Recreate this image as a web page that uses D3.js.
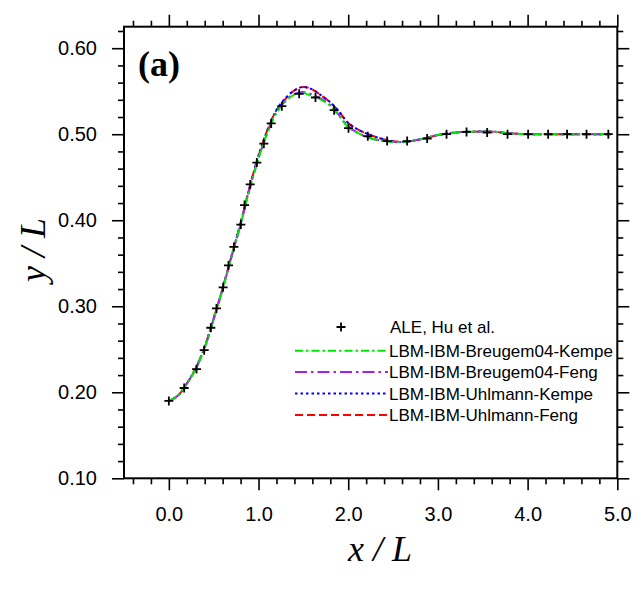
<!DOCTYPE html>
<html>
<head>
<meta charset="utf-8">
<script src="https://cdn.jsdelivr.net/npm/d3@7/dist/d3.min.js"></script>
<style>
  html, body { margin: 0; padding: 0; background: #fff; }
  svg { display: block; }
</style>
</head>
<body>
<svg id="chart" width="644" height="594"></svg>
<script>
// ---------------- data ----------------
const xMajorTicks = [0, 1, 2, 3, 4, 5];
const yMajorTicks = [0.1, 0.2, 0.3, 0.4, 0.5, 0.6];
const xTickLabels = ["0.0", "1.0", "2.0", "3.0", "4.0", "5.0"];
const yTickLabels = ["0.10", "0.20", "0.30", "0.40", "0.50", "0.60"];

// ALE, Hu et al. (markers)
const aleX = [0.0, 0.171, 0.309, 0.394, 0.468, 0.531, 0.605, 0.665, 0.725, 0.803, 0.844, 0.907, 0.981, 1.059, 1.141, 1.26, 1.453, 1.635, 1.843, 2.003, 2.218, 2.434, 2.657, 2.88, 3.096, 3.319, 3.549, 3.776, 4.006, 4.229, 4.44, 4.657, 4.9];
const aleY = [0.190, 0.205, 0.227, 0.249, 0.275, 0.2975, 0.322, 0.3475, 0.369, 0.395, 0.4176, 0.4416, 0.467, 0.489, 0.5125, 0.5326, 0.547, 0.5427, 0.528, 0.507, 0.4977, 0.492, 0.492, 0.495, 0.500, 0.5027, 0.502, 0.500, 0.500, 0.500, 0.500, 0.500, 0.500];

// LBM curves
const curveX = [0.0, 0.1, 0.2, 0.3, 0.4, 0.5, 0.6, 0.7, 0.8, 0.9, 1.0, 1.1, 1.2, 1.3, 1.4, 1.5, 1.6, 1.7, 1.8, 1.9, 2.0, 2.1, 2.2, 2.4, 2.6, 2.8, 3.0, 3.2, 3.4, 3.6, 3.8, 4.0, 4.5, 4.93];
const breugemKempeY = [0.190, 0.196, 0.210, 0.227, 0.252, 0.285, 0.320, 0.358, 0.395, 0.436, 0.472, 0.502, 0.525, 0.538, 0.546, 0.548, 0.544, 0.540, 0.533, 0.521, 0.508, 0.502, 0.497, 0.492, 0.491, 0.494, 0.499, 0.502, 0.503, 0.503, 0.501, 0.500, 0.500, 0.500];
const breugemFengY = [0.190, 0.196, 0.210, 0.227, 0.252, 0.285, 0.320, 0.358, 0.395, 0.436, 0.472, 0.502, 0.525, 0.539, 0.547, 0.549, 0.546, 0.541, 0.534, 0.522, 0.509, 0.502, 0.497, 0.492, 0.491, 0.494, 0.499, 0.502, 0.503, 0.503, 0.501, 0.500, 0.500, 0.500];
const uhlmannKempeY = [0.190, 0.196, 0.210, 0.228, 0.253, 0.286, 0.321, 0.359, 0.397, 0.438, 0.475, 0.505, 0.528, 0.542, 0.551, 0.555, 0.552, 0.545, 0.537, 0.526, 0.513, 0.506, 0.501, 0.494, 0.491, 0.494, 0.499, 0.502, 0.503, 0.503, 0.501, 0.500, 0.500, 0.500];
const uhlmannFengY = [0.190, 0.196, 0.210, 0.228, 0.253, 0.286, 0.321, 0.359, 0.397, 0.438, 0.475, 0.505, 0.528, 0.541, 0.551, 0.555, 0.552, 0.545, 0.537, 0.526, 0.513, 0.506, 0.501, 0.494, 0.491, 0.494, 0.499, 0.502, 0.503, 0.503, 0.501, 0.500, 0.500, 0.500];

const seriesNames = ["LBM-IBM-Breugem04-Kempe", "LBM-IBM-Breugem04-Feng", "LBM-IBM-Uhlmann-Kempe", "LBM-IBM-Uhlmann-Feng"];
const markerName = "ALE, Hu et al.";

// ---------------- layout ----------------
const svg = d3.select("#chart");
const pLeft = 124, pRight = 617.3, pTop = 26.7, pBottom = 478.3;

const x = d3.scaleLinear().domain([-0.5, 5.0]).range([pLeft, pRight]);
const y = d3.scaleLinear().domain([0.1, 0.625]).range([pBottom, pTop]);

const xMinor = d3.range(-0.4, 5.01, 0.2).map(v => +v.toFixed(2)).filter(v => Math.abs(v - Math.round(v)) > 1e-6);
const yMinor = d3.range(0.12, 0.625, 0.02).map(v => +v.toFixed(3)).filter(v => Math.abs(v * 10 - Math.round(v * 10)) > 1e-6);

const tickFont = "'Liberation Sans', Arial, Helvetica, sans-serif";
const serifFont = "'Liberation Serif', 'Times New Roman', Times, serif";

function styleAxis(g) {
  g.select(".domain").remove();
  g.selectAll("line").attr("stroke", "#000").attr("stroke-width", 1.6);
}

// bottom
svg.append("g").attr("transform", `translate(0,${pBottom})`)
  .call(d3.axisBottom(x).tickValues(xMinor).tickSize(6).tickFormat(""))
  .call(styleAxis);
svg.append("g").attr("transform", `translate(0,${pBottom})`)
  .call(d3.axisBottom(x).tickValues(xMajorTicks).tickSize(12).tickPadding(17)
    .tickFormat((d, i) => xTickLabels[i]))
  .call(styleAxis)
  .call(g => g.selectAll("text").attr("font-family", tickFont).attr("font-size", 20).attr("fill", "#000"));
// top
svg.append("g").attr("transform", `translate(0,${pTop})`)
  .call(d3.axisTop(x).tickValues(xMinor).tickSize(6).tickFormat(""))
  .call(styleAxis);
svg.append("g").attr("transform", `translate(0,${pTop})`)
  .call(d3.axisTop(x).tickValues(xMajorTicks).tickSize(12).tickFormat(""))
  .call(styleAxis);
// left
svg.append("g").attr("transform", `translate(${pLeft},0)`)
  .call(d3.axisLeft(y).tickValues(yMinor).tickSize(6).tickFormat(""))
  .call(styleAxis);
svg.append("g").attr("transform", `translate(${pLeft},0)`)
  .call(d3.axisLeft(y).tickValues(yMajorTicks).tickSize(12).tickPadding(15)
    .tickFormat((d, i) => yTickLabels[i]))
  .call(styleAxis)
  .call(g => g.selectAll("text").attr("font-family", tickFont).attr("font-size", 20).attr("fill", "#000"));
// right
svg.append("g").attr("transform", `translate(${pRight},0)`)
  .call(d3.axisRight(y).tickValues(yMinor).tickSize(6).tickFormat(""))
  .call(styleAxis);
svg.append("g").attr("transform", `translate(${pRight},0)`)
  .call(d3.axisRight(y).tickValues(yMajorTicks).tickSize(12).tickFormat(""))
  .call(styleAxis);

// frame
svg.append("rect")
  .attr("x", pLeft).attr("y", pTop)
  .attr("width", pRight - pLeft).attr("height", pBottom - pTop)
  .attr("fill", "none").attr("stroke", "#000").attr("stroke-width", 2);

// ---------------- curves ----------------
const line = d3.line().x(d => x(d[0])).y(d => y(d[1])).curve(d3.curveCatmullRom.alpha(0.5));

const styles = [
  { name: seriesNames[3], ys: uhlmannFengY, color: "#ff0000", dash: "8,4" },
  { name: seriesNames[2], ys: uhlmannKempeY, color: "#0000ff", dash: "2.5,3" },
  { name: seriesNames[1], ys: breugemFengY, color: "#a020f0", dash: "12,4,2.5,4" },
  { name: seriesNames[0], ys: breugemKempeY, color: "#00e600", dash: "8,3,2.5,3" }
];

styles.forEach(s => {
  svg.append("path")
    .datum(curveX.map((v, i) => [v, s.ys[i]]))
    .attr("d", line)
    .attr("fill", "none")
    .attr("stroke", s.color)
    .attr("stroke-width", 2)
    .attr("stroke-dasharray", s.dash);
});

// markers
function plusPath(cx, cy, r) {
  return `M${cx - r},${cy}H${cx + r}M${cx},${cy - r}V${cy + r}`;
}
svg.append("g").selectAll("path")
  .data(aleX.map((v, i) => [v, aleY[i]]))
  .join("path")
  .attr("d", d => plusPath(x(d[0]), y(d[1]), 4.5))
  .attr("stroke", "#000")
  .attr("stroke-width", 1.8)
  .attr("fill", "none");

// ---------------- legend ----------------
const legend = svg.append("g");
legend.append("path").attr("d", plusPath(341, 327, 4.5)).attr("stroke", "#000").attr("stroke-width", 1.8);
legend.append("text").attr("x", 390).attr("y", 333)
  .attr("font-family", tickFont).attr("font-size", 17).text(markerName);

const legOrder = [styles[3], styles[2], styles[1], styles[0]];
legOrder.forEach((s, i) => {
  const ly = 350.7 + i * 21.4;
  legend.append("line")
    .attr("x1", 295).attr("x2", 388).attr("y1", ly).attr("y2", ly)
    .attr("stroke", s.color).attr("stroke-width", 2).attr("stroke-dasharray", s.dash);
  legend.append("text").attr("x", 389).attr("y", ly + 6.2)
    .attr("font-family", tickFont).attr("font-size", 17).text(s.name);
});

// ---------------- titles ----------------
svg.append("text")
  .attr("x", 380).attr("y", 561)
  .attr("text-anchor", "middle")
  .attr("font-family", serifFont).attr("font-style", "italic").attr("font-size", 36)
  .text("x / L");

svg.append("text")
  .attr("transform", "translate(45,250) rotate(-90)")
  .attr("text-anchor", "middle")
  .attr("font-family", serifFont).attr("font-style", "italic").attr("font-size", 36)
  .text("y / L");

svg.append("text")
  .attr("x", 138).attr("y", 76)
  .attr("font-family", serifFont).attr("font-weight", "bold").attr("font-size", 36)
  .text("(a)");
</script>
</body>
</html>
